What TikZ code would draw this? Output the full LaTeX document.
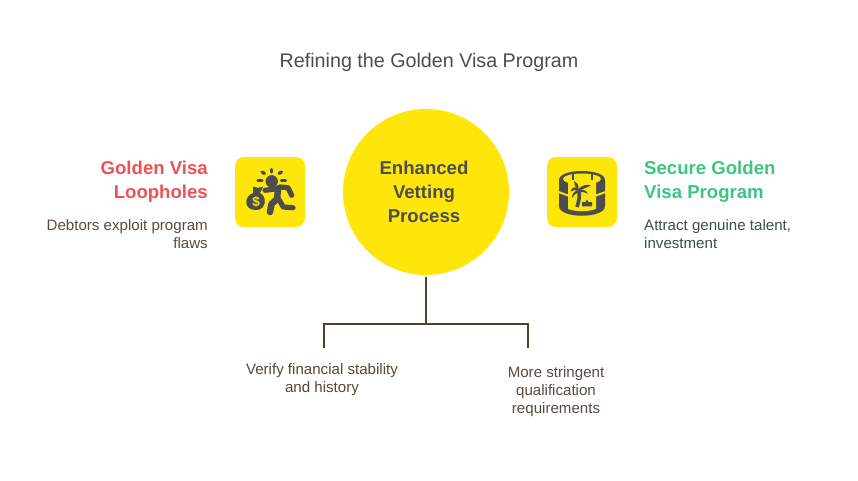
\documentclass[tikz,border=0pt]{standalone}
\usepackage{fontspec}
\setmainfont{Liberation Sans}
\definecolor{ylw}{HTML}{FEE60A}
\definecolor{ico}{HTML}{4D4D4D}
\definecolor{ttl}{HTML}{4D4D4D}
\definecolor{rd}{HTML}{EA5455}
\definecolor{grn}{HTML}{3CC583}
\definecolor{brn}{HTML}{5A4A42}
\definecolor{ln}{HTML}{4A4428}
\definecolor{grt}{HTML}{3F4F48}
\tikzset{
  x=1pt,y=-1pt,
  txt/.style={inner sep=0pt,font=\fontsize{15.1}{18}\selectfont,align=center},
  hd/.style={inner sep=0pt,font=\fontsize{18.6}{24}\selectfont\bfseries},
  iconbox/.style={fill=ylw,rounded corners=9pt,minimum size=70pt,inner sep=0pt},
  conn/.style={draw=ln,line width=2pt},
  icl/.style={draw=ico,line cap=round,line join=round},
}
\begin{document}
\begin{tikzpicture}
\useasboundingbox (0,0) rectangle (858,480);
\fill[white] (0,0) rectangle (858,480);
\node[inner sep=0pt,text=ttl,font=\fontsize{19.7}{24}\selectfont] (title) at (429,62) {Refining the Golden Visa Program};
\node[circle,fill=ylw,minimum size=166pt,inner sep=0pt] (hub) at (426,192) {};
\node[hd,text=ico,align=center] (hubt) at (424,192) {Enhanced\\Vetting\\Process};
\node[iconbox] (lbox) at (270,192) {};
\node[iconbox] (rbox) at (582,192) {};
% left icon
\begin{scope}[shift={(270,192)}]
 \fill[ico] (1.7,-10.7) circle (6.2);
 \foreach \a/\b/\c/\d in {-8/-20/-5.5/-18.5, 1.7/-22.5/1.7/-20, 11.5/-20/9/-18.5, -12/-11.7/-8/-11.7, 11.5/-11.7/15.5/-11.7}
   \draw[icl,line width=3.2pt] (\a,\b) -- (\c,\d);
 % runner
 \draw[icl,line width=5.2pt] (-5,-1.7) -- (5,-3) -- (10,-5) -- (18,-4.3) -- (21.7,3.3);
 \draw[icl,line width=6.5pt] (8,-3) -- (7,7) -- (1.5,12) -- (0,20);
 \draw[icl,line width=5.2pt] (8,6) -- (13.3,15) -- (23,15.7);
 % bag
 \fill[ico] (-16.7,-5.5) .. controls (-14,-4) and (-10,-4) .. (-6.7,-5.5) -- (-10,1) .. controls (-3,4) and (-3,18) .. (-14,18) .. controls (-27,18) and (-26,4) .. (-17,1) -- cycle;
 \node[inner sep=0pt,text=ylw,font=\fontsize{13.5}{13.5}\selectfont\bfseries] (dollar) at (-14,9.5) {\$};
\end{scope}
% right icon
\begin{scope}[shift={(582,192)}]
 \fill[ico] (-23,-12) .. controls (-23,-24) and (23,-24) .. (23,-12) -- (23,14) .. controls (23,27) and (-23,27) .. (-23,14) -- cycle;
 \fill[ylw] (0,-13) ellipse (19 and 5.5);
 \fill[ylw] (-14,-13) -- (-14,17) .. controls (-5,20) and (5,20) .. (14,17) -- (14,-13) -- cycle;
 \fill[ylw] (-23.5,-1) -- (-14,2.5) -- (-14,4.5) -- (-23.5,1) -- cycle;
 \fill[ylw] (23.5,-1) -- (14,2.5) -- (14,4.5) -- (23.5,1) -- cycle;
 \draw[ico,line width=1.8pt] (-9,-20) -- (-9,-12);
 \draw[ico,line width=1.8pt] (10,-20) -- (10,-12);
 % palm
 \draw[ico,line width=3.6pt] (-3.3,-2) .. controls (-2,4) and (-3,9) .. (-5,15);
 \fill[ico] (-3.5,-3) .. controls (-7,-6) and (-10,-5) .. (-11.5,-0.5) .. controls (-9,-2.5) and (-6,-2) .. (-3,-1) -- cycle;
 \fill[ico] (-3.5,-3) .. controls (-3,-7) and (-5,-10) .. (-8,-11) .. controls (-8,-8) and (-7,-5) .. (-3,-1) -- cycle;
 \fill[ico] (-3.5,-3) .. controls (0,-7) and (5,-8) .. (9,-6.5) .. controls (5,-4.5) and (0,-3) .. (-3,-1) -- cycle;
 \fill[ico] (-3.5,-2) .. controls (0,-3) and (4,-2) .. (6,1.5) .. controls (3,0) and (0,0) .. (-3,0) -- cycle;
 \fill[ico] (-3.5,-2) .. controls (-8,-1) and (-10,2) .. (-10,6) .. controls (-8,3) and (-6,1) .. (-3,0) -- cycle;
 % sand castle
 \fill[ico] (0,10) -- (0,14.3) -- (10,14.3) -- (10,10) -- (6.5,10) -- (5,7.5) -- (3.5,10) -- cycle;
\end{scope}
\node[hd,text=rd,align=right,anchor=east] (lh) at (208,182) {Golden Visa\\Loopholes};
\node[txt,text=brn,align=right,anchor=east] (ld) at (208,234) {Debtors exploit program\\flaws};
\node[hd,text=grn,align=left,anchor=west] (rh) at (644,182) {Secure Golden\\Visa Program};
\node[txt,text=grt,align=left,anchor=west] (rd) at (644,234) {Attract genuine talent,\\investment};
\coordinate (jn) at (426,323.5);
\coordinate (jl) at (324,323.5);
\coordinate (jr) at (528,323.5);
\coordinate (el) at (324,348);
\coordinate (er) at (528,348);
\coordinate (st) at (426,277);
\draw[conn] (st) -- (jn);
\draw[conn,line join=miter] (el) -- (jl) -- (jr) -- (er);
\node[txt,text=brn!60!ln] (b1) at (322,379.5) {Verify financial stability\\and history};
\node[txt,text=brn] (b2) at (556,391.5) {More stringent\\qualification\\requirements};
\end{tikzpicture}
\end{document}
